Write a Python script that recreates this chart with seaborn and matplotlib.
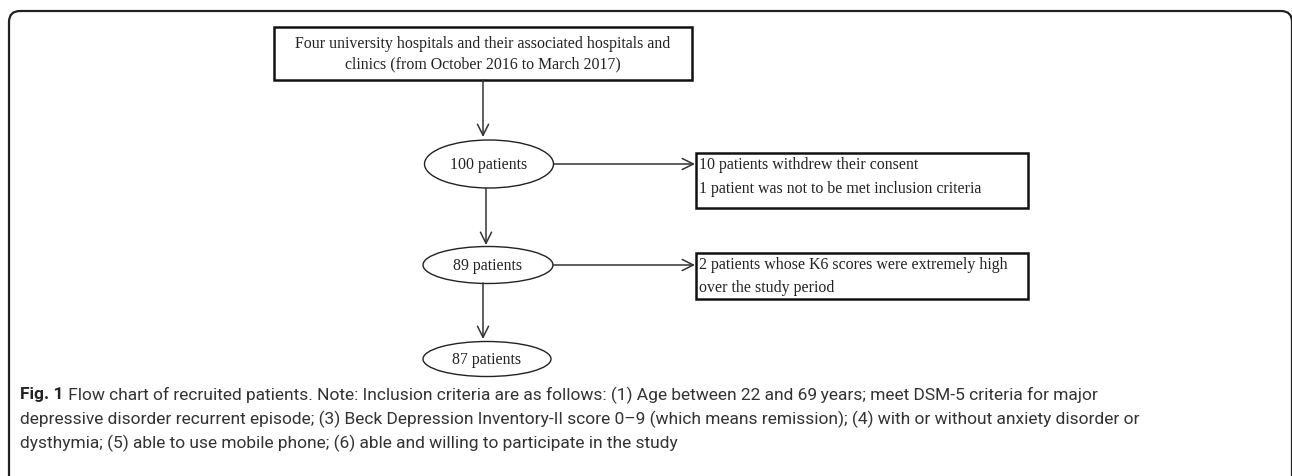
import seaborn as sns
import matplotlib.pyplot as plt
from matplotlib.patches import Ellipse, Rectangle, FancyBboxPatch

# chart content
source_lines = ["Four university hospitals and their associated hospitals and",
                "clinics (from October 2016 to March 2017)"]
stage_counts = [100, 89, 87]
excluded_notes = [["10 patients withdrew their consent",
                   "1 patient was not to be met inclusion criteria"],
                  ["2 patients whose K6 scores were extremely high",
                   "over the study period"]]
caption_label = "Fig. 1"
caption_lines = [
    " Flow chart of recruited patients. Note: Inclusion criteria are as follows: (1) Age between 22 and 69\u2009years; meet DSM-5 criteria for major",
    "depressive disorder recurrent episode; (3) Beck Depression Inventory-II score 0\u20139 (which means remission); (4) with or without anxiety disorder or",
    "dysthymia; (5) able to use mobile phone; (6) able and willing to participate in the study",
]

sns.set_theme(style="white")
plt.rcParams['font.family'] = ['DejaVu Sans']

W, H = 1292, 476
fig = plt.figure(figsize=(W / 100, H / 100), dpi=100)
ax = fig.add_axes([0, 0, 1, 1])
ax.set_xlim(0, W)
ax.set_ylim(H, 0)
ax.axis('off')

serif = 'Liberation Serif'
fs = 11.4
line_c = '#333333'

# outer frame
ax.add_patch(FancyBboxPatch((9, 11), 1283, 500, boxstyle="round,pad=0,rounding_size=11",
                            fill=False, lw=1.6, ec='#222222', clip_on=True))

def arrow(x0, y0, x1, y1):
    ax.annotate('', xy=(x1, y1), xytext=(x0, y0),
                arrowprops=dict(arrowstyle='->', lw=1.1, color=line_c,
                                shrinkA=0, shrinkB=0, mutation_scale=20))

# source box
ax.add_patch(Rectangle((274, 27), 418, 53, fill=False, lw=1.8, ec='#111111'))
for i, s in enumerate(source_lines):
    ax.text(483, 44 + i * 20, s, ha='center', va='center', family=serif, fontsize=fs, color='#222222')
arrow(483, 80, 483, 137)

# stage ellipses
ell_pos = [(489, 164, 129, 48), (488, 265, 130, 37), (487, 359, 128, 35)]
for (cx, cy, w, h), n in zip(ell_pos, stage_counts):
    ax.add_patch(Ellipse((cx, cy), w, h, fill=False, lw=1.0, ec='#222222'))
    ax.text(cx, cy + 1, f"{n} patients", ha='center', va='center', family=serif, fontsize=fs, color='#222222')

arrow(486, 188, 486, 245)
arrow(483, 283, 483, 339)

# exclusion boxes
box_pos = [(696, 153, 332, 55, 165, 189), (696, 253, 332, 46, 265, 288)]
for (bx, by, bw, bh, y1, y2), notes in zip(box_pos, excluded_notes):
    ax.add_patch(Rectangle((bx, by), bw, bh, fill=False, lw=1.8, ec='#111111'))
    for yy, s in zip([y1, y2], notes):
        ax.text(bx + 3, yy, s, ha='left', va='center', family=serif, fontsize=fs, color='#222222')
arrow(554, 164, 695, 164)
arrow(553, 265, 695, 265)

# caption
cap_font = 'Roboto'
cap_fs = 12.5
cap_y = [395, 419, 443]
lab = ax.text(20, cap_y[0], caption_label, ha='left', va='center', family=cap_font,
              fontsize=cap_fs, fontweight='bold', color='#222222')
fig.canvas.draw()
ext = lab.get_window_extent(fig.canvas.get_renderer())
ax.text(20 + ext.width, cap_y[0], caption_lines[0], ha='left', va='center', family=cap_font,
        fontsize=cap_fs, color='#333333')
for yy, s in zip(cap_y[1:], caption_lines[1:]):
    ax.text(20, yy, s, ha='left', va='center', family=cap_font, fontsize=cap_fs,
            color='#333333')

fig.savefig('out.png', dpi=100, facecolor='white')
